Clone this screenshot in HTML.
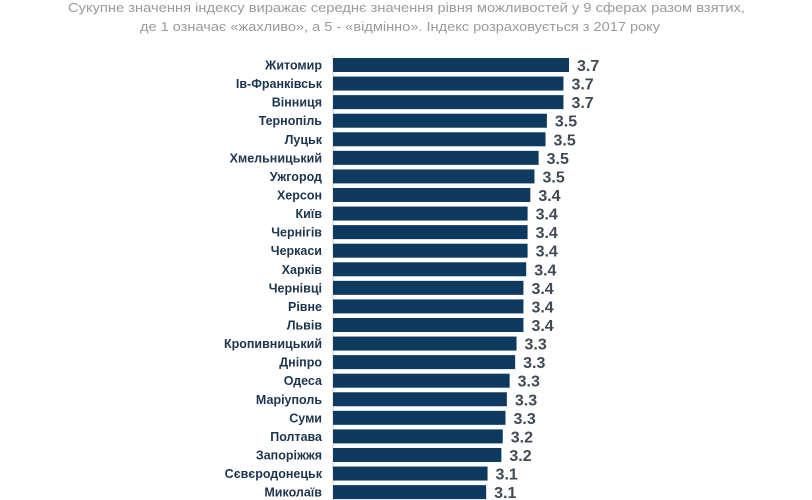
<!DOCTYPE html>
<html><head><meta charset="utf-8"><style>
html,body{margin:0;padding:0;background:#fff;}
svg{display:block;font-family:"Liberation Sans","DejaVu Sans",sans-serif;}
</style></head><body>
<svg id="chart" width="812" height="500" viewBox="0 0 812 500" xmlns="http://www.w3.org/2000/svg">
<text x="68" y="12" font-size="13" fill="#9a9a9a" textLength="677" lengthAdjust="spacingAndGlyphs">Сукупне значення індексу виражає середнє значення рівня можливостей у 9 сферах разом взятих,</text>
<text x="140" y="31" font-size="13" fill="#9a9a9a" textLength="520" lengthAdjust="spacingAndGlyphs">де 1 означає «жахливо», а 5 - «відмінно». Індекс розраховується з 2017 року</text>
<line x1="333" y1="55" x2="333" y2="500" stroke="#cfcfcf" stroke-width="1"/>
<g id="bars"></g>
</svg>
<script>
const cities = ["Житомир","Ів-Франківськ","Вінниця","Тернопіль","Луцьк","Хмельницький","Ужгород","Херсон","Київ","Чернігів","Черкаси","Харків","Чернівці","Рівне","Львів","Кропивницький","Дніпро","Одеса","Маріуполь","Суми","Полтава","Запоріжжя","Сєвєродонецьк","Миколаїв"];
const values = [3.71,3.67,3.67,3.55,3.54,3.49,3.46,3.43,3.41,3.41,3.41,3.40,3.38,3.38,3.38,3.33,3.32,3.28,3.26,3.25,3.23,3.22,3.12,3.11];
const valueLabels = ["3.7","3.7","3.7","3.5","3.5","3.5","3.5","3.4","3.4","3.4","3.4","3.4","3.4","3.4","3.4","3.3","3.3","3.3","3.3","3.3","3.2","3.2","3.1","3.1"];

const NS = "http://www.w3.org/2000/svg";
const x0 = 333, axisMin = 2.0, pxPerUnit = 138;
const xScale = v => x0 + (v - axisMin) * pxPerUnit;
const yTop = 65, step = 18.57, barH = 14;
const yScale = i => yTop + i * step;
const g = document.getElementById("bars");
cities.forEach((c, i) => {
  const cy = yScale(i);
  const t = document.createElementNS(NS, "text");
  
  
  t.setAttribute("x", 322); t.setAttribute("y", cy + 4.5);
  t.setAttribute("text-anchor", "end"); t.setAttribute("font-size", "12.5");
  t.setAttribute("font-weight", "bold"); t.setAttribute("fill", "#1c3550");
  t.textContent = c; g.appendChild(t);
  const r = document.createElementNS(NS, "rect");
  
  
  r.setAttribute("x", x0); r.setAttribute("y", cy - barH / 2);
  r.setAttribute("width", xScale(values[i]) - x0); r.setAttribute("height", barH);
  r.setAttribute("fill", "#0d3a5e");
  g.appendChild(r);
  const v = document.createElementNS(NS, "text");
  
  
  v.setAttribute("x", xScale(values[i]) + 8); v.setAttribute("y", cy + 6);
  v.setAttribute("font-size", "16"); v.setAttribute("font-weight", "bold");
  v.setAttribute("fill", "#3f4a55");
  v.textContent = valueLabels[i]; g.appendChild(v);
});
</script>
</body></html>
